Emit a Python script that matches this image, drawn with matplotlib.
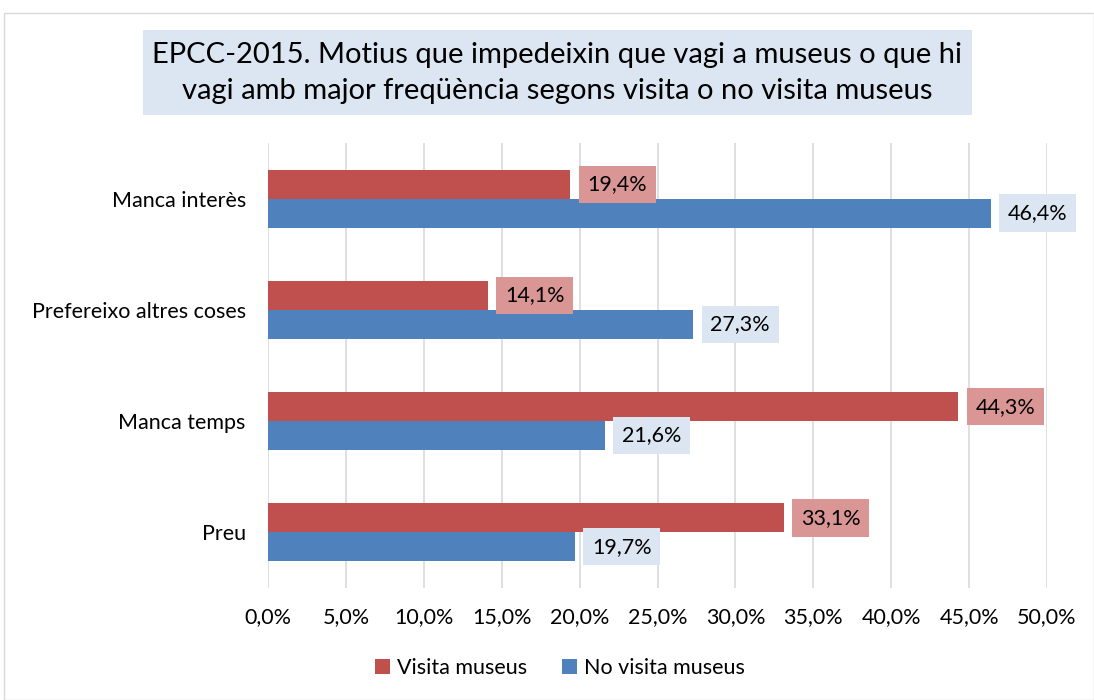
import matplotlib
matplotlib.use("Agg")
import matplotlib.pyplot as plt
import numpy as np
from matplotlib.patches import Rectangle

categories = ["Manca interès", "Prefereixo altres coses", "Manca temps", "Preu"]
visita = [19.4, 14.1, 44.3, 33.1]
no_visita = [46.4, 27.3, 21.6, 19.7]
series_names = ["Visita museus", "No visita museus"]
title = "EPCC-2015. Motius que impedeixin que vagi a museus o que hi\nvagi amb major freqüència segons visita o no visita museus"

red = "#C0504D"
blue = "#4F81BD"
red_lbl = "#DA9694"
blue_lbl = "#DCE6F2"

plt.rcParams['font.family'] = ['Lato', 'DejaVu Sans']

fig = plt.figure(figsize=(10.94, 7.0), dpi=100)
W, H = 1094, 700
# outer border
fig.patches.append(Rectangle((4 / W, 0), 1 - 4 / W, 1 - 13 / H, transform=fig.transFigure,
                             fill=False, edgecolor="#D9D9D9", linewidth=1.0))
# title box
fig.patches.append(Rectangle((143 / W, 1 - 115 / H), (972 - 143) / W, (115 - 30) / H,
                             transform=fig.transFigure, facecolor="#DCE6F2", edgecolor="none"))

ax = fig.add_axes([268 / W, 1 - 588 / H, (1047 - 268) / W, (588 - 143) / H])
n = len(categories)
y = np.arange(n)[::-1].astype(float)
bh = 0.26
ax.barh(y + bh / 2, visita, height=bh, color=red, label=series_names[0], zorder=3)
ax.barh(y - bh / 2, no_visita, height=bh, color=blue, label=series_names[1], zorder=3)

fs = 15.5
for yi, v in zip(y, visita):
    ax.text(v + 1.1, yi + bh / 2, f"{v:.1f}%".replace(".", ","), va="center", ha="left",
            fontsize=fs, color="#000000", zorder=4,
            bbox=dict(boxstyle="square,pad=0.4", facecolor=red_lbl, edgecolor="none"))
for yi, v in zip(y, no_visita):
    ax.text(v + 1.1, yi - bh / 2, f"{v:.1f}%".replace(".", ","), va="center", ha="left",
            fontsize=fs, color="#000000", zorder=4,
            bbox=dict(boxstyle="square,pad=0.4", facecolor=blue_lbl, edgecolor="none"))

ax.set_xlim(0, 50)
ax.set_ylim(-0.5, n - 0.5)
xt = np.arange(0, 50.1, 5)
ax.set_xticks(xt)
ax.set_xticklabels([f"{t:.1f}%".replace(".", ",") for t in xt], fontsize=fs)
ax.set_yticks(y)
ax.set_yticklabels(categories, fontsize=fs)
ax.tick_params(axis="both", length=0)
ax.tick_params(axis="y", pad=16)
ax.tick_params(axis="x", pad=14)
ax.grid(axis="x", color="#D9D9D9", linewidth=1.2, zorder=0)
for s in ax.spines.values():
    s.set_visible(False)

fig.text(557 / W, 1 - 73 / H, title, ha="center", va="center", fontsize=21, linespacing=1.5)

fig.legend(loc="center", bbox_to_anchor=(560 / W, 1 - 668 / H), ncol=2, frameon=False,
           fontsize=fs, handlelength=0.7, handleheight=0.7, columnspacing=1.6, handletextpad=0.35)

fig.savefig("out.png", dpi=100)
